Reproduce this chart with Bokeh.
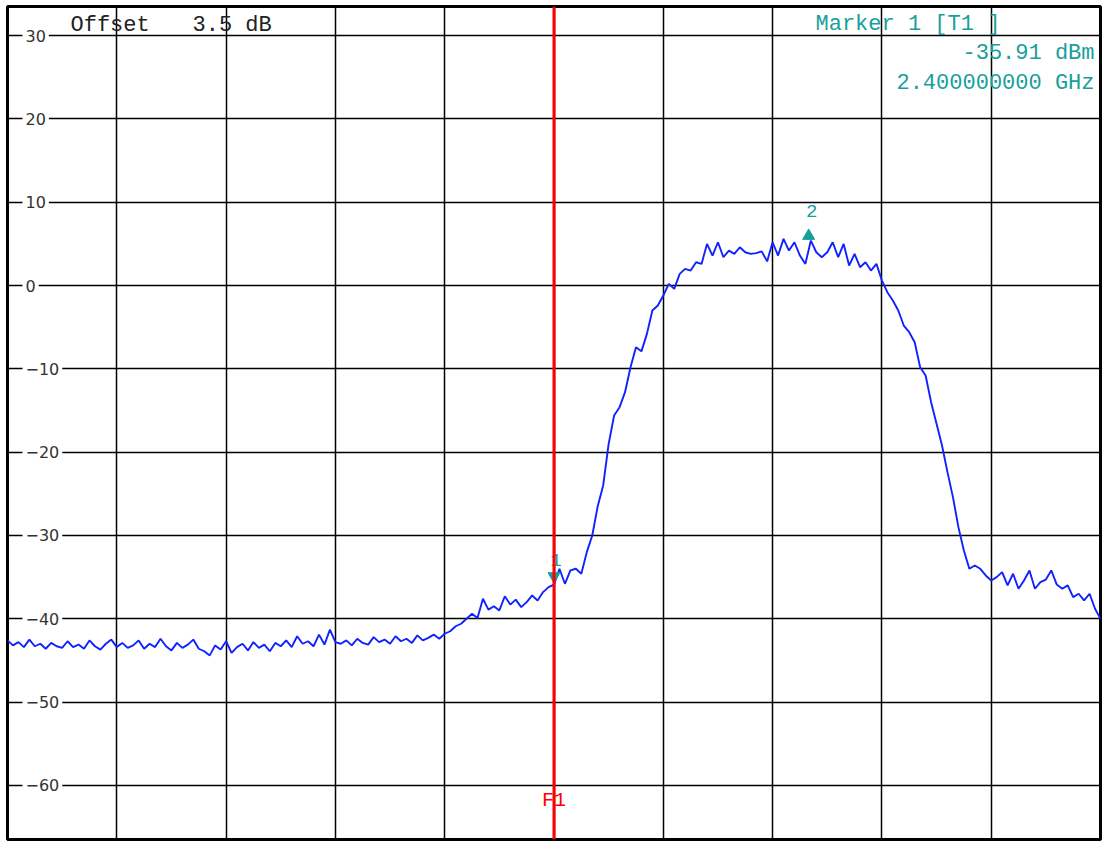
from bokeh.plotting import figure
from bokeh.models import FixedTicker, Span, Range1d
from bokeh.core.properties import value
from bokeh.embed import file_html
from bokeh.resources import INLINE

# ---- data (x in screen divisions 0..10, centre = 2.4 GHz; y in dBm) ----
trace_db = [
    -42.6, -43.2, -42.8, -43.4, -42.5, -43.3, -43.0, -43.6, -42.9, -43.3,
    -43.5, -42.7, -43.4, -43.1, -43.6, -42.6, -43.3, -43.7, -43.0, -42.5,
    -43.4, -42.9, -43.5, -43.2, -42.6, -43.6, -43.0, -43.4, -42.4, -43.3,
    -43.8, -42.9, -43.5, -43.1, -42.5, -43.6, -43.9, -44.4, -43.2, -43.7,
    -42.7, -44.1, -43.4, -43.0, -43.8, -42.8, -43.5, -43.1, -43.9, -42.9,
    -43.3, -42.6, -43.4, -42.1, -43.0, -42.7, -43.3, -41.9, -43.1, -41.3,
    -42.8, -43.0, -42.6, -43.2, -42.4, -42.9, -43.1, -42.2, -42.8, -42.5,
    -43.0, -42.1, -42.7, -42.4, -42.9, -42.0, -42.6, -42.3, -41.9, -42.4,
    -41.8,
    -41.5, -40.9, -40.6, -40.0, -39.4, -39.9, -37.6, -38.9, -38.5, -39.0,
    -37.3, -38.3, -37.7, -38.6, -38.0, -37.2, -37.8, -36.8, -36.2, -35.9,
    -34.0, -35.8, -34.2, -34.0, -34.6, -32.0, -30.0, -26.5, -24.0, -19.0,
    -15.6, -14.6, -12.8, -9.8, -7.4, -7.9, -5.8, -3.0, -2.4, -1.2,
    0.2, -0.4, 1.4, 2.0, 1.8, 2.8, 2.6, 5.0, 3.6, 5.2,
    3.4, 4.2, 3.8, 4.6, 4.0, 3.8, 3.9, 4.1, 2.9,
    5.2, 3.6, 5.6, 4.2, 5.2, 3.6, 2.6, 5.4, 4.0, 3.4,
    4.0, 5.2, 3.4, 5.0, 2.4, 3.8, 2.2, 2.8, 1.8, 2.6,
    0.6, -0.8, -1.8, -3.0, -4.8, -5.6, -6.8, -9.8, -10.8, -14.0,
    -16.6, -19.2, -22.4, -25.4, -29.0, -31.8, -34.0, -33.6, -34.0, -34.8,
    -35.4, -35.0, -34.4, -36.0, -34.6, -36.4, -35.4, -34.2, -36.4, -35.6,
    -35.3, -34.2, -35.9, -36.4, -36.0, -37.4, -37.0, -37.8, -37.0, -38.8,
    -40.0,
]
n = len(trace_db)
trace_div = [10.0 * i / (n - 1) for i in range(n)]

y_ticks = [30, 20, 10, 0, -10, -20, -30, -40, -50, -60]
y_tick_labels = ["30", "20", "10", "0", "\u221210", "\u221220", "\u221230",
                 "\u221240", "\u221250", "\u221260"]
x_grid_divs = [1, 2, 3, 4, 5, 6, 7, 8, 9]

ref_top = 33.5
ref_bottom = -66.5

f1_div = 5.0
marker1_div, marker1_db = 5.0, -35.91
marker2_div, marker2_db = 7.33, 5.6

offset_words = ["Offset", "3.5 dB"]
marker_lines = ["Marker 1 [T1 ]", "-35.91 dBm", "2.400000000 GHz"]

# ---- styling ----
W, H = 1102, 841
BL, BR, BT, BB = 7, 2, 6, 2
TEAL = "#17a09b"
BLUE = "#0f22ff"
MONO = value("Liberation Mono")
SANS = value("DejaVu Sans")
px_per_db = (H - BT - BB) / (ref_top - ref_bottom)

p = figure(width=W, height=H, x_range=Range1d(0, 10), y_range=Range1d(ref_bottom, ref_top),
           output_backend="svg", toolbar_location=None,
           x_axis_location=None, y_axis_location=None,
           min_border_left=BL, min_border_right=BR, min_border_top=BT, min_border_bottom=BB)
p.background_fill_color = "white"
p.border_fill_color = "white"
p.outline_line_color = "black"
p.outline_line_width = 3
p.outline_line_alpha = 1.0

p.xgrid.ticker = FixedTicker(ticks=x_grid_divs)
p.ygrid.ticker = FixedTicker(ticks=y_ticks)
for g in (p.xgrid, p.ygrid):
    g.grid_line_color = "black"
    g.grid_line_width = 1.5
    g.grid_line_alpha = 1.0

# trace
p.line(trace_div, trace_db, line_color=BLUE, line_width=1.9)

# F1 display line
p.add_layout(Span(location=f1_div, dimension="height", line_color="#ff0000", line_width=3))
p.text(x=[f1_div], y=[ref_bottom], text=["F1"], y_offset=-39, text_align="center",
       text_baseline="middle", text_font=MONO, text_font_size="20px", text_color="#ff0000")

# y tick labels inside the frame
p.text(x=[0] * len(y_ticks), y=y_ticks, text=y_tick_labels, x_offset=15,
       text_align="left", text_baseline="middle", text_font=SANS, text_font_size="16px",
       text_color="#333333", background_fill_color="white", padding=3)

# header texts
p.text(x=[0, 0], y=[ref_top, ref_top], text=offset_words, x_offset=[63, 185], y_offset=19,
       text_align="left", text_baseline="middle", text_font=MONO, text_font_size="22px",
       text_color="#222222")
p.text(x=[10], y=[ref_top], text=[marker_lines[0]], x_offset=-285, y_offset=18,
       text_align="left", text_baseline="middle", text_font=MONO, text_font_size="22px",
       text_color=TEAL)
p.text(x=[10, 10], y=[ref_top, ref_top], text=marker_lines[1:], x_offset=-6,
       y_offset=[47, 77], text_align="right", text_baseline="middle", text_font=MONO,
       text_font_size="22px", text_color=TEAL)

# markers
p.scatter(x=[marker1_div], y=[marker1_db + 8.5 / px_per_db], marker="inverted_triangle",
          size=12, fill_color=TEAL, line_color=TEAL)
p.text(x=[marker1_div], y=[marker1_db], text=["1"], x_offset=2, y_offset=-25,
       text_align="center", text_baseline="middle", text_font=MONO, text_font_size="19px",
       text_color=TEAL)
p.scatter(x=[marker2_div], y=[marker2_db + 3 / px_per_db], marker="triangle",
          size=12, fill_color=TEAL, line_color=TEAL)
p.text(x=[marker2_div], y=[marker2_db], text=["2"], x_offset=3, y_offset=-28,
       text_align="center", text_baseline="middle", text_font=MONO, text_font_size="19px",
       text_color=TEAL)

open("out.html", "w").write(file_html(p, INLINE))
